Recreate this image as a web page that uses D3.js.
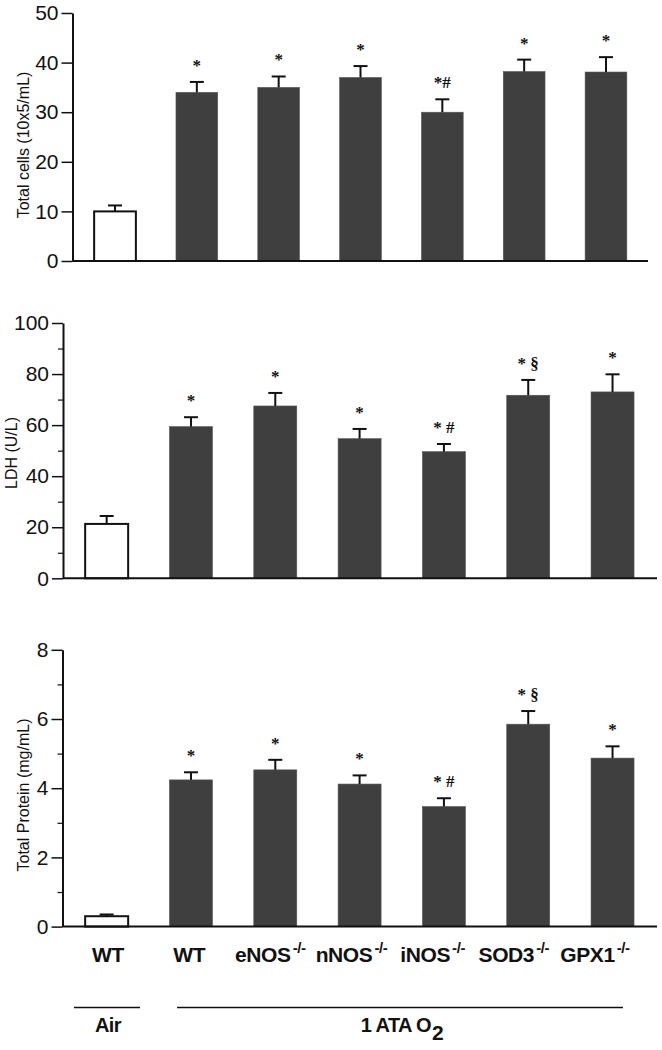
<!DOCTYPE html>
<html>
<head>
<meta charset="utf-8">
<script src="https://cdn.jsdelivr.net/npm/d3@7"></script>
<style>
  html, body { margin: 0; padding: 0; background: #fff; }
  svg { display: block; }
  .tick text { font-family: "Liberation Sans", Arial, sans-serif; }
</style>
</head>
<body>
<svg id="chart" width="662" height="1050"></svg>
<script>
// ---- data ----
const categories = ["WT", "WT", "eNOS", "nNOS", "iNOS", "SOD3", "GPX1"];
const superscripts = ["", "", "-/-", "-/-", "-/-", "-/-", "-/-"];
const conditions = ["Air", "O2", "O2", "O2", "O2", "O2", "O2"];

const cellsValues = [10.0, 34.0, 35.0, 37.0, 30.0, 38.2, 38.1];
const cellsErrors = [1.2, 2.1, 2.2, 2.3, 2.6, 2.4, 3.0];
const cellsMarks = ["", "*", "*", "*", "*#", "*", "*"];
const cellsTicks = [0, 10, 20, 30, 40, 50];

const ldhValues = [21.3, 59.4, 67.5, 54.7, 49.6, 71.7, 73.0];
const ldhErrors = [3.1, 3.7, 5.1, 3.8, 3.0, 6.0, 6.9];
const ldhMarks = ["", "*", "*", "*", "* #", "* §", "*"];
const ldhTicks = [0, 20, 40, 60, 80, 100];
const ldhMinorTicks = [10, 30, 50, 70, 90];

const proteinValues = [0.3, 4.24, 4.53, 4.12, 3.47, 5.85, 4.87];
const proteinErrors = [0.05, 0.22, 0.29, 0.25, 0.24, 0.38, 0.34];
const proteinMarks = ["", "*", "*", "*", "* #", "* §", "*"];
const proteinTicks = [0, 2, 4, 6, 8];
const proteinMinorTicks = [1, 3, 5, 7];

const yTitles = ["Total cells (10x5/mL)", "LDH (U/L)", "Total Protein (mg/mL)"];

// ---- layout ----
const svg = d3.select("#chart");
const idx = d3.range(categories.length);

const panels = [
  { values: cellsValues, errors: cellsErrors, marks: cellsMarks, ticks: cellsTicks, minor: [],
    domain: [0, 50], yRange: [261, 13], axisX: 72.5, xRange: [74.1, 646.9], axisEnd: 648,
    title: yTitles[0], titleX: 29, titleY: 145 },
  { values: ldhValues, errors: ldhErrors, marks: ldhMarks, ticks: ldhTicks, minor: ldhMinorTicks,
    domain: [0, 100], yRange: [578.3, 323], axisX: 63, xRange: [64.5, 654.7], axisEnd: 657,
    title: yTitles[1], titleX: 17, titleY: 453 },
  { values: proteinValues, errors: proteinErrors, marks: proteinMarks, ticks: proteinTicks, minor: proteinMinorTicks,
    domain: [0, 8], yRange: [926.6, 649.8], axisX: 62.5, xRange: [64.5, 654.7], axisEnd: 657,
    title: yTitles[2], titleX: 29, titleY: 795 }
];

const barFill = "#3f3f3f";
const ink = "#111";

panels.forEach(p => {
  const x = d3.scaleBand().domain(idx).range(p.xRange).paddingInner(0.49).paddingOuter(0.245);
  const y = d3.scaleLinear().domain(p.domain).range(p.yRange);
  const g = svg.append("g");

  // bars
  g.selectAll("rect.bar").data(idx).join("rect")
    .attr("class", "bar")
    .attr("x", i => x(i))
    .attr("width", x.bandwidth())
    .attr("y", i => y(p.values[i]))
    .attr("height", i => y(0) - y(p.values[i]))
    .attr("fill", i => conditions[i] === "Air" ? "#fff" : barFill)
    .attr("stroke", i => conditions[i] === "Air" ? ink : "#555")
    .attr("stroke-width", i => conditions[i] === "Air" ? 2 : 0.6);

  // error bars (upper only)
  const capW = 14;
  g.selectAll("line.err").data(idx).join("line")
    .attr("class", "err")
    .attr("x1", i => x(i) + x.bandwidth() / 2)
    .attr("x2", i => x(i) + x.bandwidth() / 2)
    .attr("y1", i => y(p.values[i]))
    .attr("y2", i => y(p.values[i] + p.errors[i]))
    .attr("stroke", ink).attr("stroke-width", 2);
  g.selectAll("line.cap").data(idx).join("line")
    .attr("class", "cap")
    .attr("x1", i => x(i) + x.bandwidth() / 2 - capW / 2)
    .attr("x2", i => x(i) + x.bandwidth() / 2 + capW / 2)
    .attr("y1", i => y(p.values[i] + p.errors[i]))
    .attr("y2", i => y(p.values[i] + p.errors[i]))
    .attr("stroke", ink).attr("stroke-width", 2);

  // significance marks
  g.selectAll("text.mark").data(idx.filter(i => p.marks[i])).join("text")
    .attr("class", "mark")
    .attr("x", i => x(i) + x.bandwidth() / 2)
    .attr("y", i => y(p.values[i] + p.errors[i]) - 11)
    .attr("text-anchor", "middle")
    .attr("font-family", "'Liberation Serif', 'Times New Roman', serif")
    .attr("font-weight", "bold")
    .attr("font-size", 17)
    .attr("fill", ink)
    .attr("xml:space", "preserve")
    .text(i => p.marks[i]);

  // x baseline
  g.append("line")
    .attr("x1", p.axisX).attr("x2", p.axisEnd)
    .attr("y1", y(0)).attr("y2", y(0))
    .attr("stroke", ink).attr("stroke-width", 2);

  // y axis major
  const ax = g.append("g").attr("transform", `translate(${p.axisX},0)`)
    .call(d3.axisLeft(y).tickValues(p.ticks).tickSize(11).tickSizeOuter(0).tickPadding(3).tickFormat(d3.format("d")));
  ax.select(".domain").attr("stroke", ink).attr("stroke-width", 2);
  ax.selectAll(".tick line").attr("stroke", ink).attr("stroke-width", 1.5);
  ax.selectAll(".tick text").attr("font-size", 21).attr("fill", ink);

  // y axis minor
  if (p.minor.length) {
    const mx = g.append("g").attr("transform", `translate(${p.axisX},0)`)
      .call(d3.axisLeft(y).tickValues(p.minor).tickSize(5).tickSizeOuter(0).tickFormat(""));
    mx.select(".domain").remove();
    mx.selectAll(".tick line").attr("stroke", ink).attr("stroke-width", 1.2);
  }

  // y title
  g.append("text")
    .attr("transform", `translate(${p.titleX},${p.titleY}) rotate(-90)`)
    .attr("text-anchor", "middle")
    .attr("font-family", "'Liberation Sans', Arial, sans-serif")
    .attr("font-size", 16)
    .attr("fill", ink)
    .text(p.title);
});

// ---- x category labels ----
const xl = d3.scalePoint().domain(idx).range([108, 595]);
const lab = svg.append("g")
  .attr("font-family", "'Liberation Sans', Arial, sans-serif")
  .attr("font-weight", "bold")
  .attr("fill", ink);

idx.forEach(i => {
  const t = lab.append("text")
    .attr("x", xl(i))
    .attr("y", 962)
    .attr("text-anchor", "middle")
    .attr("font-size", 21)
    .attr("letter-spacing", -0.4);
  t.append("tspan").text(categories[i]);
  if (superscripts[i]) {
    t.append("tspan").attr("font-size", 15).attr("dy", -9).attr("dx", 2).text(superscripts[i]);
  }
});

// ---- condition groups ----
const groups = [
  { label: "Air", sub: "", x1: 74, x2: 140, cx: 108 },
  { label: "1 ATA O", sub: "2", x1: 177, x2: 623, cx: 402 }
];
groups.forEach(gr => {
  lab.append("line")
    .attr("x1", gr.x1).attr("x2", gr.x2)
    .attr("y1", 1007.5).attr("y2", 1007.5)
    .attr("stroke", ink).attr("stroke-width", 1.6);
  const t = lab.append("text")
    .attr("x", gr.cx).attr("y", 1032)
    .attr("text-anchor", "middle")
    .attr("font-size", 20)
    .attr("letter-spacing", -0.6);
  t.append("tspan").text(gr.label);
  if (gr.sub) t.append("tspan").attr("dy", 8).attr("dx", 1).attr("font-size", 21).text(gr.sub);
});
</script>
</body>
</html>
